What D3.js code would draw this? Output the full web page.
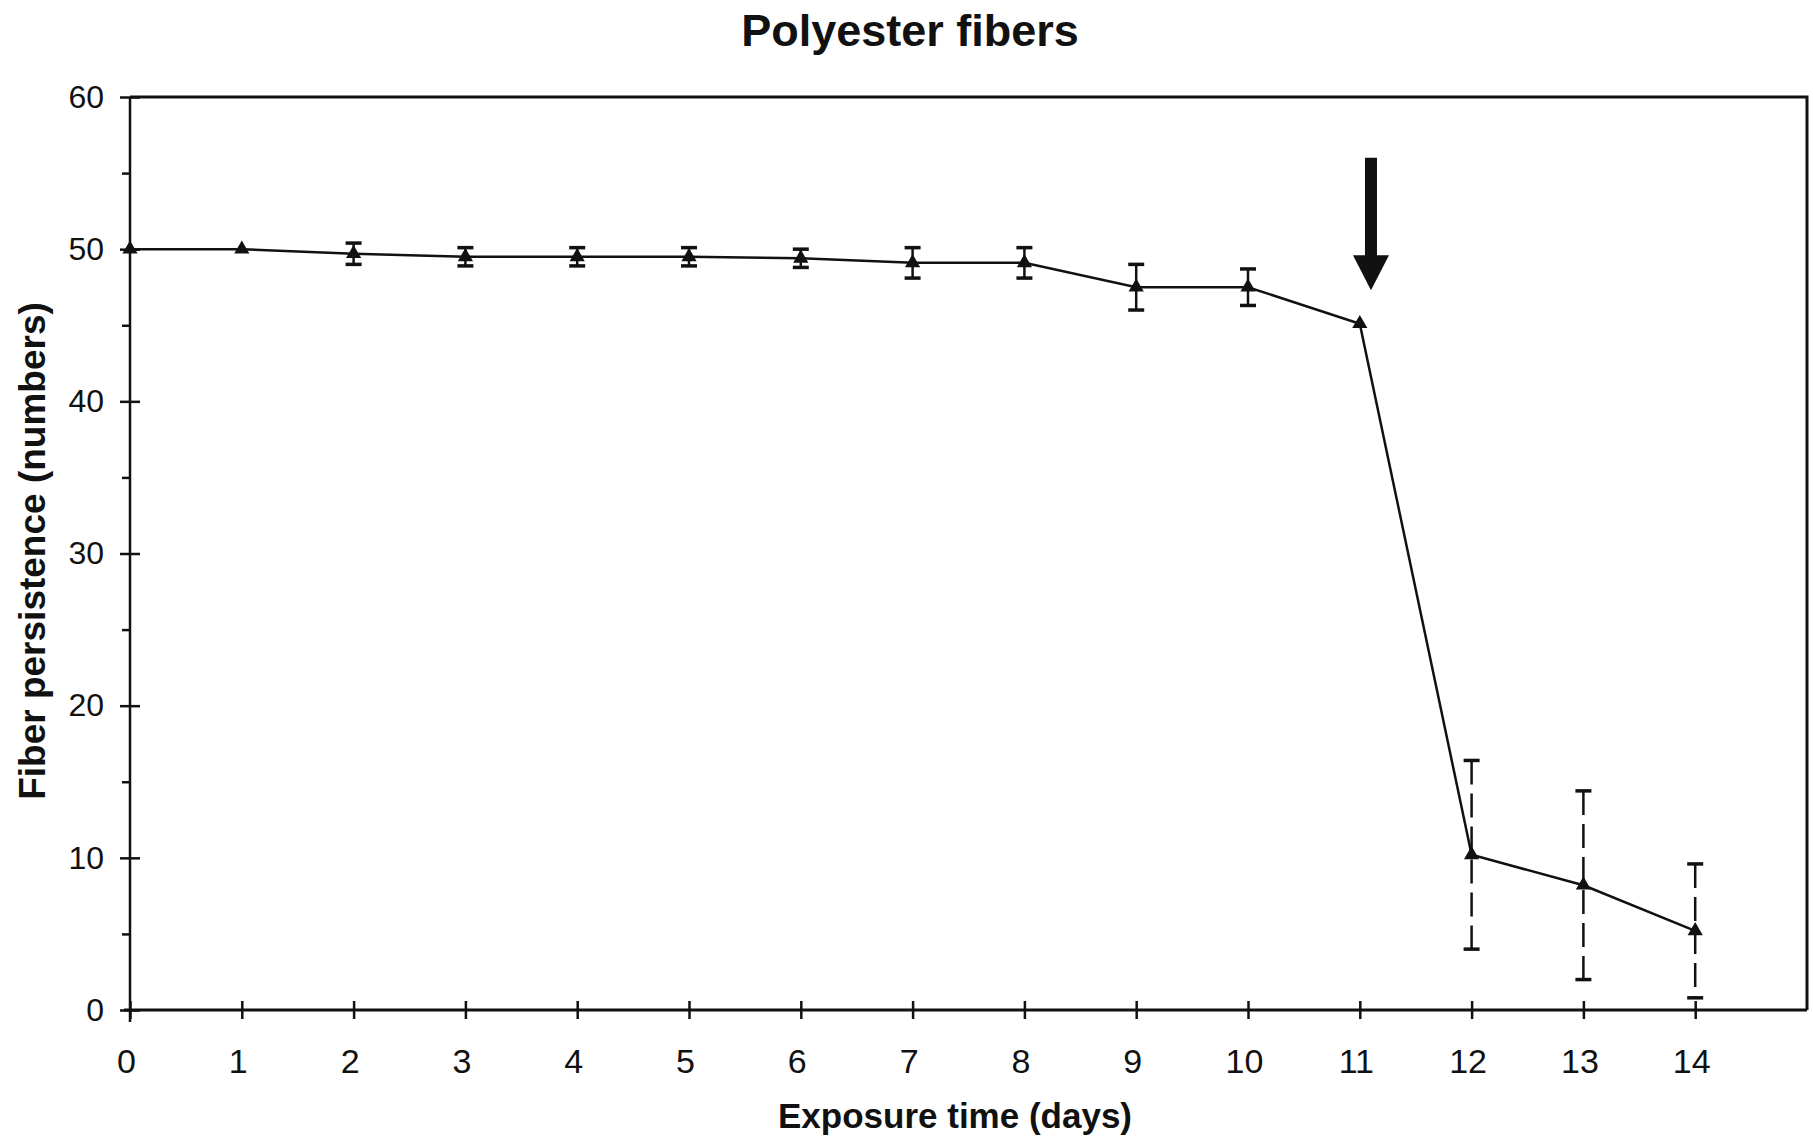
<!DOCTYPE html>
<html>
<head>
<meta charset="utf-8">
<script src="https://cdn.jsdelivr.net/npm/d3@7"></script>
<style>
  body { margin: 0; background: #fff; }
  svg { display: block; font-family: "Liberation Sans", Arial, sans-serif; }
  .axis path { display: none; }
  .axis line { stroke: #111; stroke-width: 2.5; }
  .axis text { fill: #111; }
</style>
</head>
<body>
<script>
// values
const days = [0, 1, 2, 3, 4, 5, 6, 7, 8, 9, 10, 11, 12, 13, 14];
const persistence = [50.0, 50.0, 49.7, 49.5, 49.5, 49.5, 49.4, 49.1, 49.1, 47.5, 47.5, 45.1, 10.2, 8.2, 5.2];
const errors = [0, 0, 0.7, 0.6, 0.6, 0.6, 0.6, 1.0, 1.0, 1.5, 1.2, 0, 6.2, 6.2, 4.4];
const xTicks = [0, 1, 2, 3, 4, 5, 6, 7, 8, 9, 10, 11, 12, 13, 14];
const yTicks = [0, 10, 20, 30, 40, 50, 60];
const yMinorTicks = [5, 15, 25, 35, 45, 55];
// arrow marking day 11 (x position, top value, tip value)
const arrowDay = 11.1;
const arrowTop = 56;
const arrowTip = 47.3;

document.addEventListener("DOMContentLoaded", function() {
  const data = days.map((d, i) => ({ day: d, value: persistence[i], err: errors[i] }));
  drawChart(data);
});

function drawChart(data) {
  const w = 1813;
  const h = 1143;

  const xScale = d3.scaleLinear().domain([0, 15]).range([130, 1807]);
  const yScale = d3.scaleLinear().domain([0, 60]).range([1010, 97]);

  const chart = d3.select('body').append('svg')
    .attr('width', w)
    .attr('height', h);

  // title
  chart.append('text')
    .attr('x', 910)
    .attr('y', 46)
    .attr('text-anchor', 'middle')
    .style('font-size', '45px')
    .style('font-weight', 'bold')
    .style('fill', '#111')
    .text('Polyester fibers');

  // frame: top and right edges
  chart.append('path')
    .attr('d', `M${xScale(0)},${yScale(60)}H${xScale(15)}V${yScale(0)}`)
    .attr('fill', 'none')
    .attr('stroke', '#111')
    .attr('stroke-width', 3);

  // x axis, ticks cross the line
  const xAxis = chart.append('g')
    .attr('class', 'axis xaxis')
    .attr('transform', 'translate(0,' + yScale(0) + ')')
    .call(d3.axisBottom(xScale).tickValues(xTicks).tickSize(9).tickPadding(30).tickFormat(d3.format('d')));
  xAxis.selectAll('line').attr('y1', -9);
  xAxis.selectAll('text').style('font-size', '34px').attr('dx', -4);

  chart.append('line')
    .attr('x1', xScale(0) - 6).attr('x2', xScale(15))
    .attr('y1', yScale(0)).attr('y2', yScale(0))
    .attr('stroke', '#111').attr('stroke-width', 3);

  // y axis
  const yAxis = chart.append('g')
    .attr('class', 'axis yaxis')
    .attr('transform', 'translate(' + xScale(0) + ',0)')
    .call(d3.axisLeft(yScale).tickValues(yTicks).tickSize(10).tickPadding(16));
  yAxis.selectAll('line').attr('x1', 10);
  yAxis.selectAll('text').style('font-size', '32px');

  chart.append('g')
    .attr('class', 'axis yminor')
    .attr('transform', 'translate(' + xScale(0) + ',0)')
    .call(d3.axisLeft(yScale).tickValues(yMinorTicks).tickSize(8).tickFormat(''));

  chart.append('line')
    .attr('x1', xScale(0)).attr('x2', xScale(0))
    .attr('y1', yScale(60)).attr('y2', yScale(0) + 12)
    .attr('stroke', '#111').attr('stroke-width', 2.5);

  // axis titles
  chart.append('text')
    .attr('x', 955)
    .attr('y', 1128)
    .attr('text-anchor', 'middle')
    .style('font-size', '35px')
    .style('font-weight', 'bold')
    .style('fill', '#111')
    .text('Exposure time (days)');

  chart.append('text')
    .attr('transform', 'translate(45,551) rotate(-90)')
    .attr('text-anchor', 'middle')
    .style('font-size', '37px')
    .style('font-weight', 'bold')
    .style('fill', '#111')
    .text('Fiber persistence (numbers)');

  // error bars, the wide ones are dashed in the original
  const bars = chart.append('g').selectAll('g')
    .data(data.filter(d => d.err > 0))
    .enter()
    .append('g');

  bars.append('line')
    .attr('x1', d => xScale(d.day)).attr('x2', d => xScale(d.day))
    .attr('y1', d => yScale(d.value + d.err))
    .attr('y2', d => yScale(d.value - d.err))
    .attr('stroke', '#111')
    .attr('stroke-width', 2.5)
    .attr('stroke-dasharray', d => d.err > 3 ? '24,9' : null);

  bars.selectAll('.cap')
    .data(d => [d.value + d.err, d.value - d.err].map(v => ({ day: d.day, v: v })))
    .enter()
    .append('line')
    .attr('class', 'cap')
    .attr('x1', d => xScale(d.day) - 8).attr('x2', d => xScale(d.day) + 8)
    .attr('y1', d => yScale(d.v)).attr('y2', d => yScale(d.v))
    .attr('stroke', '#111')
    .attr('stroke-width', 3.5);

  // the line and its triangle markers
  const line = d3.line()
    .x(d => xScale(d.day))
    .y(d => yScale(d.value));

  chart.append('path')
    .datum(data)
    .attr('d', line)
    .attr('fill', 'none')
    .attr('stroke', '#111')
    .attr('stroke-width', 2.5);

  chart.selectAll('.marker')
    .data(data)
    .enter()
    .append('path')
    .attr('class', 'marker')
    .attr('d', d3.symbol().type(d3.symbolTriangle).size(100))
    .attr('transform', d => 'translate(' + xScale(d.day) + ',' + yScale(d.value) + ')')
    .attr('fill', '#111');

  // arrow pointing at day 11
  const ax = xScale(arrowDay);
  const headLen = 35;
  const tipY = yScale(arrowTip);
  chart.append('path')
    .attr('d', `M${ax - 6},${yScale(arrowTop)}H${ax + 6}V${tipY - headLen}H${ax + 18}L${ax},${tipY}L${ax - 18},${tipY - headLen}H${ax - 6}Z`)
    .attr('fill', '#111');
}
</script>
</body>
</html>
